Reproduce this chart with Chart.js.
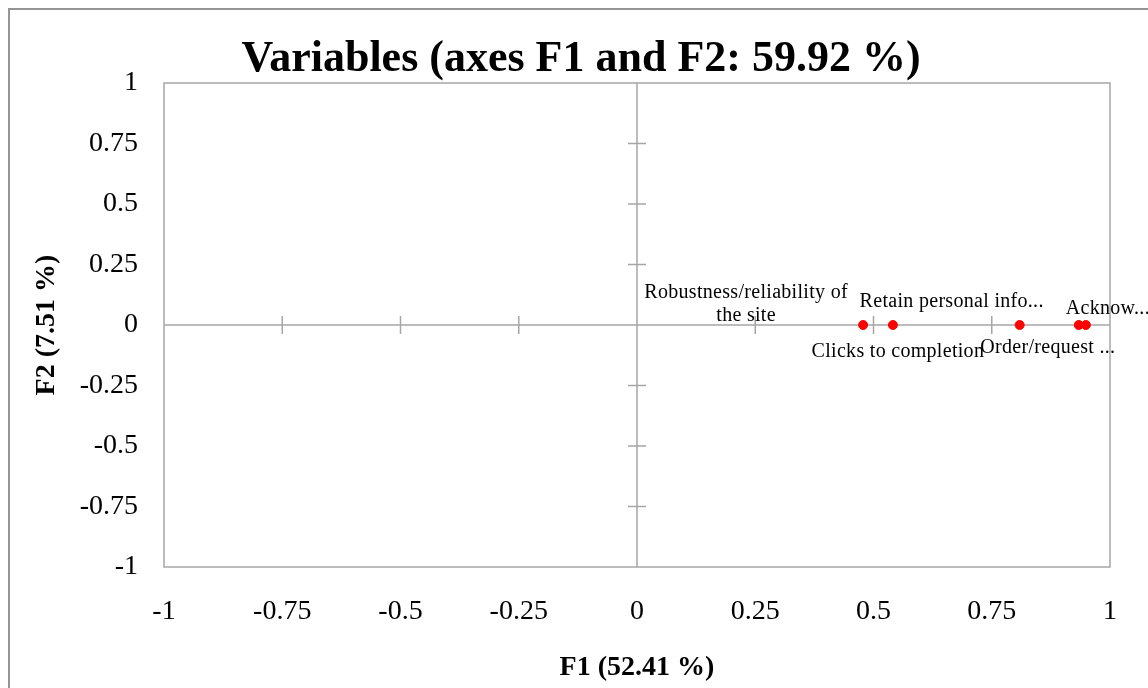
<!DOCTYPE html>
<html>
<head>
<meta charset="utf-8">
<script src="https://cdn.jsdelivr.net/npm/chart.js@4/dist/chart.umd.min.js"></script>
<style>
  html, body { margin: 0; padding: 0; background: #ffffff; }
  #wrap { width: 1148px; height: 688px; position: relative; }
</style>
</head>
<body>
<div id="wrap"><canvas id="c" width="1148" height="688"></canvas></div>
<script>
// ---- data ----
const variableNames = [
  "Robustness/reliability of\nthe site",
  "Clicks to completion",
  "Retain personal info...",
  "Order/request ...",
  "Acknow..."
];
const f1Values = [0.478, 0.541, 0.809, 0.934, 0.949];
const f2Values = [0.0, 0.0, 0.0, 0.0, 0.0];
const axisTicks = [-1, -0.75, -0.5, -0.25, 0, 0.25, 0.5, 0.75, 1];
const chartTitle = "Variables (axes F1 and F2: 59.92 %)";
const xTitle = "F1 (52.41 %)";
const yTitle = "F2 (7.51 %)";

// label offsets (pixels, relative to each point) – style only
const labelOffsets = [[-117, -32], [5, 27], [-68, -23], [-31, 23], [22, -16]];

const serif = "'Liberation Serif', 'Times New Roman', serif";
const lineColor = '#a6a6a6';

const decoPlugin = {
  id: 'deco',
  beforeDraw(chart) {
    const ctx = chart.ctx;
    ctx.save();
    ctx.fillStyle = '#ffffff';
    ctx.fillRect(0, 0, chart.width, chart.height);
    ctx.strokeStyle = '#959595';
    ctx.lineWidth = 2;
    ctx.strokeRect(9, 9, chart.width + 20, chart.height + 20);
    ctx.restore();
  },
  beforeDatasetsDraw(chart) {
    const ctx = chart.ctx;
    const a = chart.chartArea;
    const xs = chart.scales.x, ys = chart.scales.y;
    const x0 = xs.getPixelForValue(0), y0 = ys.getPixelForValue(0);
    ctx.save();
    ctx.strokeStyle = lineColor;
    ctx.lineWidth = 1.5;
    ctx.strokeRect(a.left, a.top, a.right - a.left, a.bottom - a.top);
    ctx.beginPath();
    ctx.moveTo(x0, a.top); ctx.lineTo(x0, a.bottom);
    ctx.moveTo(a.left, y0); ctx.lineTo(a.right, y0);
    axisTicks.forEach(v => {
      if (v === -1 || v === 1 || v === 0) return;
      const px = xs.getPixelForValue(v);
      ctx.moveTo(px, y0 - 9); ctx.lineTo(px, y0 + 9);
      const py = ys.getPixelForValue(v);
      ctx.moveTo(x0 - 9, py); ctx.lineTo(x0 + 9, py);
    });
    ctx.stroke();

    // titles
    ctx.fillStyle = '#000000';
    ctx.textAlign = 'center';
    ctx.textBaseline = 'alphabetic';
    ctx.font = 'bold 44px ' + serif;
    ctx.fillText(chartTitle, 581, 71);
    ctx.font = 'bold 28px ' + serif;
    ctx.fillText(xTitle, (a.left + a.right) / 2, 675);
    ctx.save();
    ctx.translate(54, (a.top + a.bottom) / 2);
    ctx.rotate(-Math.PI / 2);
    ctx.fillText(yTitle, 0, 0);
    ctx.restore();
    ctx.restore();
  },
  afterDatasetsDraw(chart) {
    const ctx = chart.ctx;
    const meta = chart.getDatasetMeta(0);
    ctx.save();
    ctx.fillStyle = '#000000';
    ctx.font = '20px ' + serif;
    if ('letterSpacing' in ctx) ctx.letterSpacing = '0.3px';
    ctx.textAlign = 'center';
    ctx.textBaseline = 'middle';
    meta.data.forEach((pt, i) => {
      const lines = variableNames[i].split('\n');
      const [dx, dy] = labelOffsets[i];
      lines.forEach((ln, k) => {
        ctx.fillText(ln, pt.x + dx, pt.y + dy + k * 23);
      });
    });
    ctx.restore();
  }
};

const fmt = v => String(Math.round(v * 100) / 100);

new Chart(document.getElementById('c'), {
  type: 'scatter',
  data: {
    datasets: [{
      data: f1Values.map((x, i) => ({ x: x, y: f2Values[i] })),
      backgroundColor: '#ff0000',
      borderColor: '#ff0000',
      pointRadius: 4.5,
      pointHoverRadius: 4.5
    }]
  },
  options: {
    responsive: false,
    animation: false,
    events: [],
    layout: { padding: { top: 83, right: 38, left: 0, bottom: 0 } },
    plugins: { legend: { display: false }, tooltip: { enabled: false }, title: { display: false } },
    scales: {
      x: {
        type: 'linear', min: -1, max: 1,
        grid: { display: false, drawTicks: false },
        border: { display: false },
        afterBuildTicks: s => { s.ticks = axisTicks.map(v => ({ value: v })); },
        afterFit: s => { s.height = 121; },
        ticks: { callback: fmt, color: '#000000', padding: 28, maxRotation: 0, autoSkip: false,
                 font: { family: serif, size: 28 } }
      },
      y: {
        type: 'linear', min: -1, max: 1,
        grid: { display: false, drawTicks: false },
        border: { display: false },
        afterBuildTicks: s => { s.ticks = axisTicks.map(v => ({ value: v })); },
        afterFit: s => { s.width = 164; },
        ticks: { callback: fmt, color: '#000000', padding: 26, autoSkip: false,
                 font: { family: serif, size: 28 } }
      }
    }
  },
  plugins: [decoPlugin]
});
</script>
</body>
</html>
